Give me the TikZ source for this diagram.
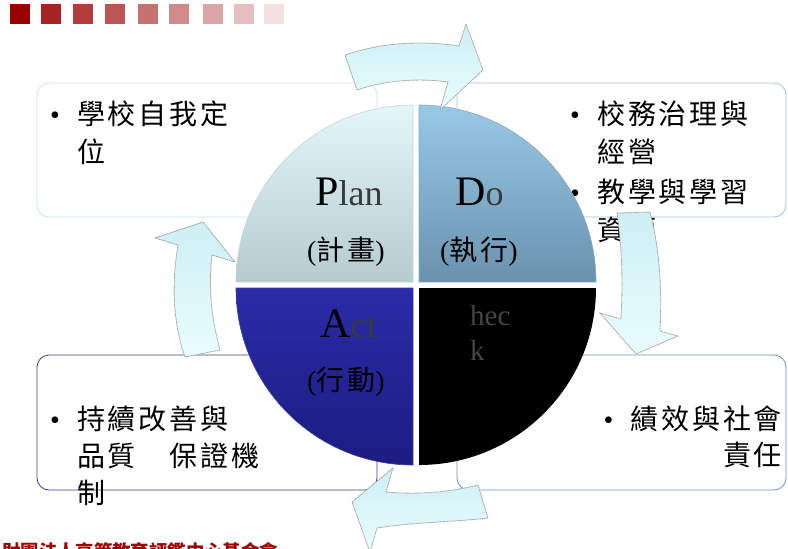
\documentclass[tikz,border=0pt]{standalone}
\usepackage{fontspec}
\setmainfont{Liberation Serif}
\newfontfamily\cjk[LetterSpace=10]{Noto Sans CJK TC}
\newfontfamily\cjkfoot{Noto Sans CJK TC}
\usepackage{xcolor}
\usetikzlibrary{positioning}

\definecolor{SqRed}{HTML}{990000}
\definecolor{PlanTop}{HTML}{E2F7FA}
\definecolor{PlanBot}{HTML}{B6CBCF}
\definecolor{DoTop}{HTML}{98C9E6}
\definecolor{DoBot}{HTML}{6A92AF}
\definecolor{ActTop}{HTML}{2B2BA8}
\definecolor{ActBot}{HTML}{1C1C82}
\definecolor{ArrowTop}{HTML}{CDEFF4}
\definecolor{ArrowBot}{HTML}{E9FDFF}
\definecolor{EdgePlan}{HTML}{CBE7EC}
\definecolor{EdgeDo}{HTML}{A4C2DD}
\definecolor{EdgeAct}{HTML}{3C3CA0}
\definecolor{EdgeCheck}{HTML}{6F8FD0}
\definecolor{FootRed}{HTML}{A00000}
\definecolor{DimGray}{HTML}{3A3A3A}
\definecolor{CheckGray}{HTML}{454545}

\newcommand{\Bul}{\makebox[27pt][l]{\rmfamily\textbullet}}
\newcommand{\Ind}{\hspace*{27pt}}

\begin{document}
\begin{tikzpicture}[
	%Environment config
	x=1pt, y=-1pt,
	%Environment styles
	BoxCfg/.style={line width=0.8pt, rounded corners=12pt, fill=white},
	TextCfg/.style={inner sep=0pt, align=left, font=\cjk\fontsize{28}{38}\selectfont},
	QuadCfg/.style={line width=0.6pt},
	CapCfg/.style={inner sep=0pt, anchor=base west, font=\fontsize{42}{42}\selectfont},
	SubCfg/.style={inner sep=0pt, anchor=west, font=\fontsize{28}{28}\selectfont},
	ArrowCfg/.style={draw=gray!70, line width=0.8pt, dash pattern=on 1.6pt off 0.6pt,
		top color=ArrowTop, bottom color=ArrowBot}
	]
	\useasboundingbox (0,0) rectangle (788,549);
	\clip (0,0) rectangle (788,549);
	
	%Header squares
	\foreach \x/\p in {10/100,41/86,73/76,105/67,138/56,169/46,203/35,234/25,264/12}
		\fill[SqRed!\p!white] (\x,4) rectangle ++(20,20);
	
	%Corner boxes
	\draw[BoxCfg, draw=EdgePlan] (37,83) rectangle (377,217);
	\draw[BoxCfg, draw=EdgeDo] (457,83) rectangle (786,217);
	\draw[BoxCfg, draw=EdgeAct] (37,355) rectangle (377,490);
	\draw[BoxCfg, draw=EdgeCheck] (457,355) rectangle (786,490);
	
	\node[TextCfg, anchor=north west] (PlanTxt) at (50,101) {\Bul 學校自我定\\\Ind 位};
	\node[TextCfg, anchor=north west] (DoTxt) at (570,101)
		{\Bul 校務治理與\\\Ind 經營\\[2pt]\Bul 教學與學習\\\Ind 資源};
	\node[TextCfg, anchor=north west, font=\cjk\fontsize{28}{37}\selectfont] (ActTxt) at (50,406)
		{\Bul 持續改善與\\\Ind 品質　保證機\\\Ind 制};
	\node[TextCfg, anchor=north east, align=right, font=\cjk\fontsize{28}{36}\selectfont] (CheckTxt) at (782,406)
		{\Bul 績效與社會\\責任};
	
	%Quadrants
	\path[QuadCfg, draw=PlanBot!80!white, top color=PlanTop, bottom color=PlanBot]
		(413,282) -- ++(-177,0) arc[start angle=180, end angle=90, radius=177pt] -- cycle;
	\path[QuadCfg, draw=DoBot!80!white, top color=DoTop, bottom color=DoBot]
		(419,282) -- ++(0,-177) arc[start angle=90, end angle=0, radius=177pt] -- cycle;
	\path[QuadCfg, draw=EdgeAct, top color=ActTop, bottom color=ActBot]
		(413,288) -- ++(0,177) arc[start angle=270, end angle=180, radius=177pt] -- cycle;
	\fill[black]
		(419,288) -- ++(177,0) arc[start angle=0, end angle=-90, radius=177pt] -- cycle;
	
	\node[CapCfg] (PlanLbl) at (315,205) {P{\fontsize{36}{36}\selectfont\color{DimGray}lan}};
	\node[SubCfg] (PlanSub) at (307,252) {(\cjk 計畫\rmfamily)};
	\node[CapCfg] (DoLbl) at (455,205) {D{\fontsize{36}{36}\selectfont\color{DimGray}o}};
	\node[SubCfg] (DoSub) at (440,252) {(\cjk 執行\rmfamily)};
	\node[CapCfg] (ActLbl) at (320,337) {A{\fontsize{36}{36}\selectfont\color{DimGray}ct}};
	\node[SubCfg] (ActSub) at (307,382) {(\cjk 行動\rmfamily)};
	\node[inner sep=0pt, anchor=north west, align=left, text=CheckGray,
		font=\fontsize{29}{35}\selectfont] (CheckLbl) at (470,305) {hec\\k};
	
	%Cycle arrows
	\path[ArrowCfg] (345,55) .. controls (380,43) and (420,40) .. (459,46)
		-- (466,24) -- (483,70) -- (440,110) -- (448,82)
		.. controls (420,78) and (385,80) .. (357,90) -- cycle;
	\path[ArrowCfg] (617,213) .. controls (622,250) and (623,280) .. (621,319)
		-- (600,313) -- (636,354) -- (678,336) -- (660,331)
		.. controls (662,290) and (660,250) .. (650,212) -- cycle;
	\path[ArrowCfg] (478,485) .. controls (450,492) and (420,495) .. (386,492)
		-- (393,468) -- (352,502) -- (370,552) -- (377,528)
		.. controls (415,522) and (455,522) .. (488,518) -- cycle;
	\path[ArrowCfg] (185,357) .. controls (172,320) and (172,280) .. (178,245)
		-- (155,238) -- (203,222) -- (235,262) -- (212,255)
		.. controls (208,290) and (212,320) .. (220,350) -- cycle;
	
	%Footer
	\node[anchor=west, inner sep=0pt, text=FootRed,
		font=\cjkfoot\bfseries\fontsize{18.4}{18.4}\selectfont] (Footer) at (2,552)
		{財團法人高等教育評鑑中心基金會};
\end{tikzpicture}
\end{document}
